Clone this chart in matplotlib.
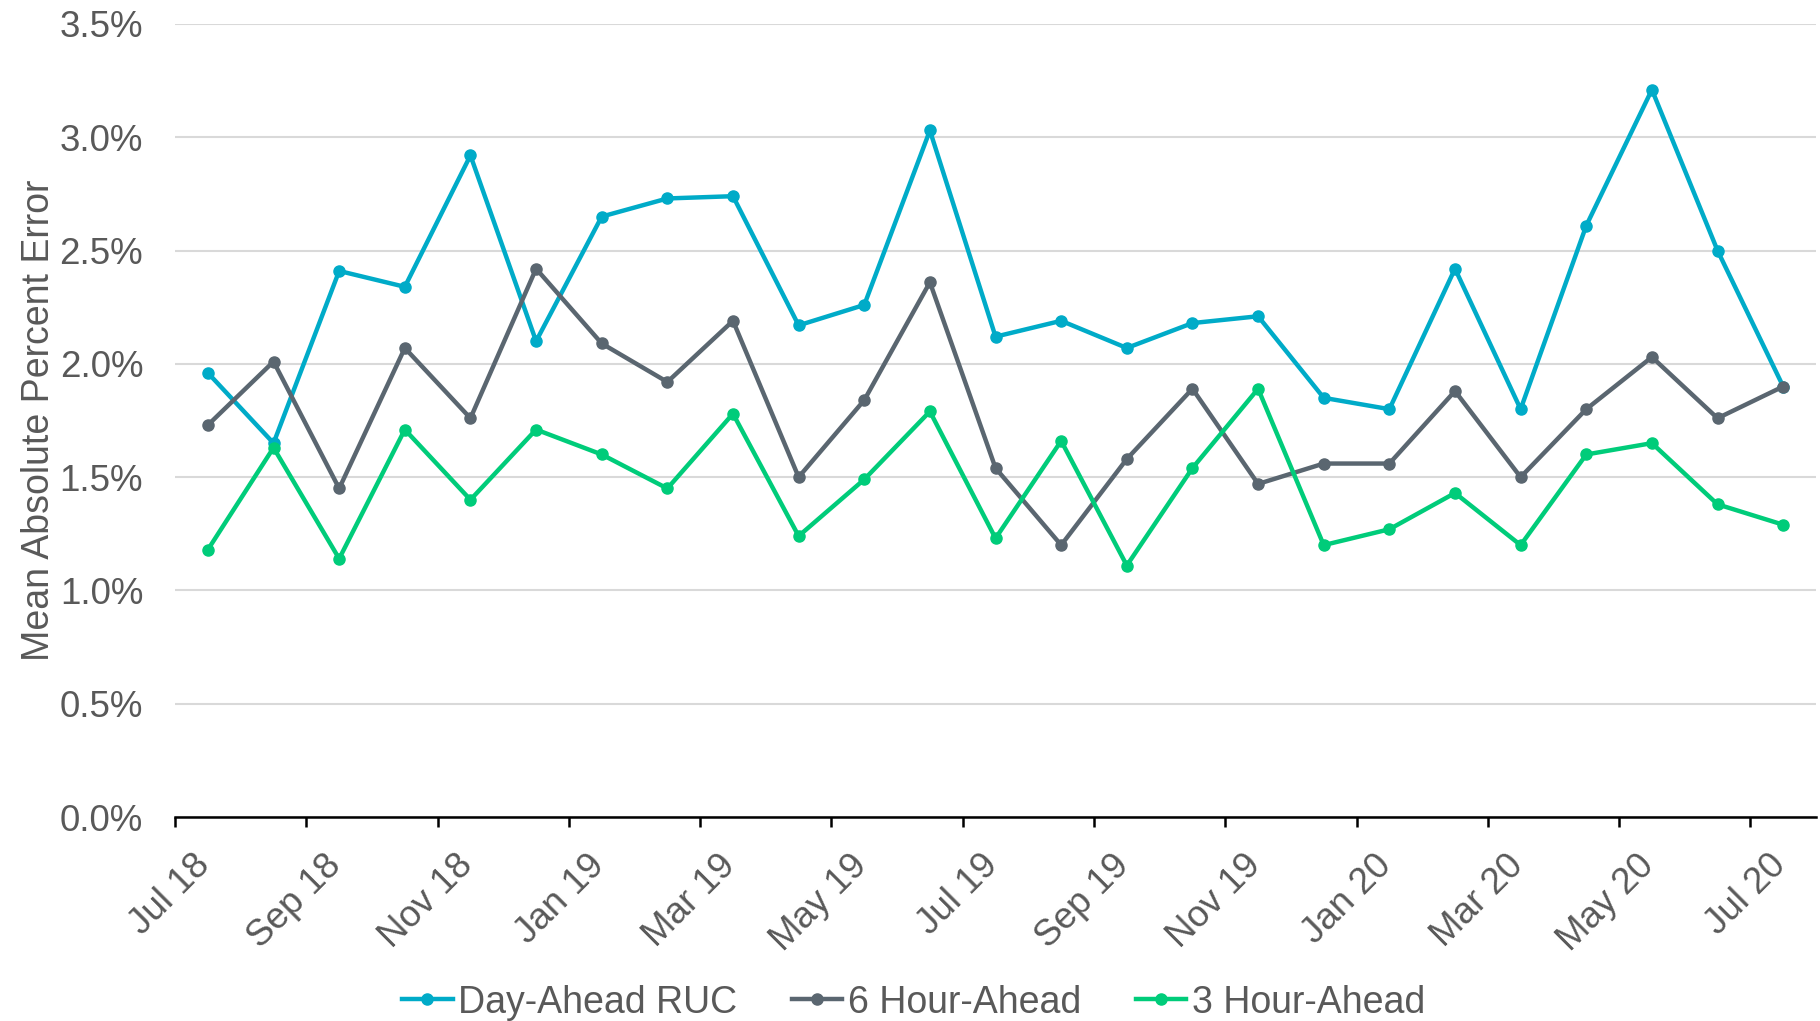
import matplotlib.pyplot as plt
from matplotlib.ticker import FuncFormatter
from matplotlib.transforms import ScaledTranslation

plt.rcParams['font.family'] = ['Liberation Sans', 'DejaVu Sans']

# monthly values, Jul 2018 .. Jul 2020 (mean absolute percent error, %)
months = ['Jul 18', 'Aug 18', 'Sep 18', 'Oct 18', 'Nov 18', 'Dec 18',
          'Jan 19', 'Feb 19', 'Mar 19', 'Apr 19', 'May 19', 'Jun 19',
          'Jul 19', 'Aug 19', 'Sep 19', 'Oct 19', 'Nov 19', 'Dec 19',
          'Jan 20', 'Feb 20', 'Mar 20', 'Apr 20', 'May 20', 'Jun 20', 'Jul 20']

day_ahead = [1.96, 1.65, 2.41, 2.34, 2.92, 2.10, 2.65, 2.73, 2.74, 2.17,
             2.26, 3.03, 2.12, 2.19, 2.07, 2.18, 2.21, 1.85, 1.80, 2.42,
             1.80, 2.61, 3.21, 2.50, 1.90]
six_hour = [1.73, 2.01, 1.45, 2.07, 1.76, 2.42, 2.09, 1.92, 2.19, 1.50,
            1.84, 2.36, 1.54, 1.20, 1.58, 1.89, 1.47, 1.56, 1.56, 1.88,
            1.50, 1.80, 2.03, 1.76, 1.90]
three_hour = [1.18, 1.63, 1.14, 1.71, 1.40, 1.71, 1.60, 1.45, 1.78, 1.24,
              1.49, 1.79, 1.23, 1.66, 1.11, 1.54, 1.89, 1.20, 1.27, 1.43,
              1.20, 1.60, 1.65, 1.38, 1.29]

series = [('Day-Ahead RUC', day_ahead, '#00ABC8'),
          ('6 Hour-Ahead', six_hour, '#5A6670'),
          ('3 Hour-Ahead', three_hour, '#00CC7A')]

text_color = '#595959'
fs = 26.5

fig = plt.figure(figsize=(18.2, 10.21), dpi=100)
ax = fig.add_axes([0.0962, 0.1998, 0.9016, 0.7767])

# points sit in the middle of each month
x = [i + 0.5 for i in range(len(months))]
for name, vals, col in series:
    ax.plot(x, vals, color=col, lw=3.2, marker='o', ms=8, label=name,
            solid_joinstyle='round')

ax.set_xlim(0, len(months))
ax.set_ylim(0, 3.5)
ax.set_yticks([i * 0.5 for i in range(8)])
ax.yaxis.set_major_formatter(FuncFormatter(lambda v, p: f'{v:.1f}%'))
ax.grid(axis='y', color='#D9D9D9', lw=1.5)
ax.set_axisbelow(True)
for s in ['top', 'right', 'left']:
    ax.spines[s].set_visible(False)
ax.spines['bottom'].set_linewidth(1.8)
ax.spines['bottom'].set_color('black')

ax.tick_params(axis='y', length=0, pad=23, labelsize=fs, labelcolor=text_color)
ax.set_xticks(range(0, len(months), 2))
ax.set_xticklabels(months[::2], rotation=45, ha='right', va='center',
                   rotation_mode='anchor')
ax.tick_params(axis='x', length=7.2, width=1.8, direction='out', pad=24,
               labelsize=fs, labelcolor=text_color)
shift = ScaledTranslation(30 / 100, 0, fig.dpi_scale_trans)
for lbl in ax.get_xticklabels():
    lbl.set_transform(lbl.get_transform() + shift)

ax.set_ylabel('Mean Absolute Percent Error', fontsize=27, color=text_color)
ax.yaxis.set_label_coords(-0.072, 0.5)

leg = fig.legend(loc='center', bbox_to_anchor=(0.502, 0.018), ncol=3,
                 frameon=False, fontsize=27, handlelength=1.35,
                 handletextpad=0.15, columnspacing=1.45, borderaxespad=0)
for t in leg.get_texts():
    t.set_color(text_color)

fig.savefig('out.png', dpi=100)
